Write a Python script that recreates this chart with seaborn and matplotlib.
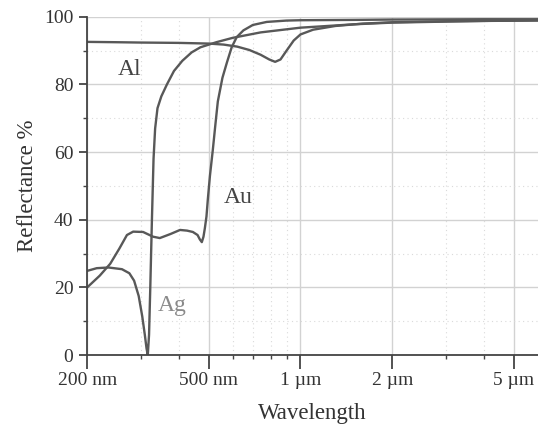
import numpy as np
import pandas as pd
import matplotlib
matplotlib.use("Agg")
import matplotlib.pyplot as plt
from matplotlib.ticker import FixedLocator, NullFormatter
import seaborn as sns

# Data (wavelength in nm, reflectance in %)
al_wl = [200, 250, 300, 400, 500, 560, 620, 680, 740, 790, 826, 860, 900, 950, 1000, 1100, 1300, 1600, 2000, 3000, 4000, 6000]
al_r = [92.6, 92.5, 92.4, 92.3, 92.1, 91.8, 91.2, 90.2, 88.8, 87.4, 86.7, 87.4, 90.0, 93.0, 94.8, 96.2, 97.3, 98.0, 98.4, 98.7, 98.8, 98.9]

ag_wl = [200, 215, 235, 260, 275, 285, 295, 303, 309, 313, 316, 319, 322, 326, 330, 334, 340, 350, 365, 385, 410, 440, 470, 530, 600, 740, 1000, 1500, 2000, 4000, 6000]
ag_r = [24.9, 25.7, 25.9, 25.4, 24.2, 22.0, 17.5, 11.5, 6.0, 2.0, 0.0, 6.0, 20.0, 40.0, 58.0, 67.0, 73.0, 76.5, 80.0, 84.0, 87.0, 89.5, 91.0, 92.5, 93.8, 95.4, 96.8, 97.8, 98.3, 98.8, 99.0]

au_wl = [200, 220, 238, 255, 270, 283, 305, 329, 346, 375, 403, 425, 444, 460, 468, 475, 481, 486, 492, 497, 505, 516, 526, 536, 555, 574, 595, 618, 650, 698, 775, 900, 1000, 1500, 2000, 4000, 6000]
au_r = [20.0, 23.5, 27.0, 31.5, 35.5, 36.5, 36.4, 35.0, 34.6, 35.8, 37.0, 36.8, 36.4, 35.5, 34.2, 33.4, 35.0, 37.5, 41.0, 46.0, 53.0, 60.6, 68.0, 75.0, 82.0, 86.5, 91.0, 94.0, 96.0, 97.6, 98.5, 98.9, 99.0, 99.1, 99.2, 99.3, 99.3]

series_names = ["Al", "Ag", "Au"]
x_ticks = [200, 500, 1000, 2000, 5000]
x_tick_labels = ["200 nm", "500 nm", "1 µm", "2 µm", "5 µm"]
x_minor = [300, 400, 600, 700, 800, 900, 3000, 4000]
y_ticks = [0, 20, 40, 60, 80, 100]
y_minor = [10, 30, 50, 70, 90]

df = pd.concat([
    pd.DataFrame({"Wavelength": al_wl, "Reflectance": al_r, "Metal": "Al"}),
    pd.DataFrame({"Wavelength": ag_wl, "Reflectance": ag_r, "Metal": "Ag"}),
    pd.DataFrame({"Wavelength": au_wl, "Reflectance": au_r, "Metal": "Au"}),
], ignore_index=True)

sns.set_style("white")
plt.rcParams["font.family"] = ["Liberation Serif", "DejaVu Serif"]

fig = plt.figure(figsize=(5.38, 4.32), dpi=100)
ax = fig.add_axes([0.162, 0.178, 0.838, 0.783])

line_color = "#585858"
sns.lineplot(data=df, x="Wavelength", y="Reflectance", hue="Metal", units="Metal",
             estimator=None, sort=False,
             palette={m: line_color for m in series_names}, linewidth=1.7,
             legend=False, ax=ax)

ax.set_xscale("log")
ax.set_xlim(200, 6000)
ax.set_ylim(0, 100)

ax.xaxis.set_major_locator(FixedLocator(x_ticks))
ax.set_xticklabels(x_tick_labels)
ax.xaxis.set_minor_locator(FixedLocator(x_minor))
ax.xaxis.set_minor_formatter(NullFormatter())
ax.yaxis.set_major_locator(FixedLocator(y_ticks))
ax.yaxis.set_minor_locator(FixedLocator(y_minor))

ax.grid(True, which="major", color="#d2d2d2", linewidth=1.0, linestyle="-")
ax.grid(True, which="minor", color="#dadada", linewidth=0.8, linestyle=(0, (1, 3)))
ax.set_axisbelow(True)

for s in ["top", "right"]:
    ax.spines[s].set_visible(False)
for s in ["left", "bottom"]:
    ax.spines[s].set_color("#444444")
    ax.spines[s].set_linewidth(1.3)

ax.tick_params(axis="x", which="major", direction="out", length=10, width=1.3, color="#444444",
               labelsize=14, labelcolor="#333333", bottom=True, pad=2)
ax.tick_params(axis="y", which="major", direction="out", length=6, width=1.3, color="#444444",
               labelsize=14, labelcolor="#333333", left=True, pad=4)
ax.tick_params(which="minor", direction="out", length=3, width=1.0, color="#444444",
               bottom=True, left=True)

ax.set_xlabel("Wavelength", fontsize=16.5, color="#333333", labelpad=10)
ax.set_ylabel("Reflectance %", fontsize=16.5, color="#333333", labelpad=4)

ax.text(276, 84.3, "Al", fontsize=17, color="#444444", ha="center", va="center")
ax.text(623, 46.7, "Au", fontsize=17, color="#444444", ha="center", va="center")
ax.text(379, 14.8, "Ag", fontsize=17, color="#8a8a8a", ha="center", va="center")

fig.savefig("out.png", dpi=100)
